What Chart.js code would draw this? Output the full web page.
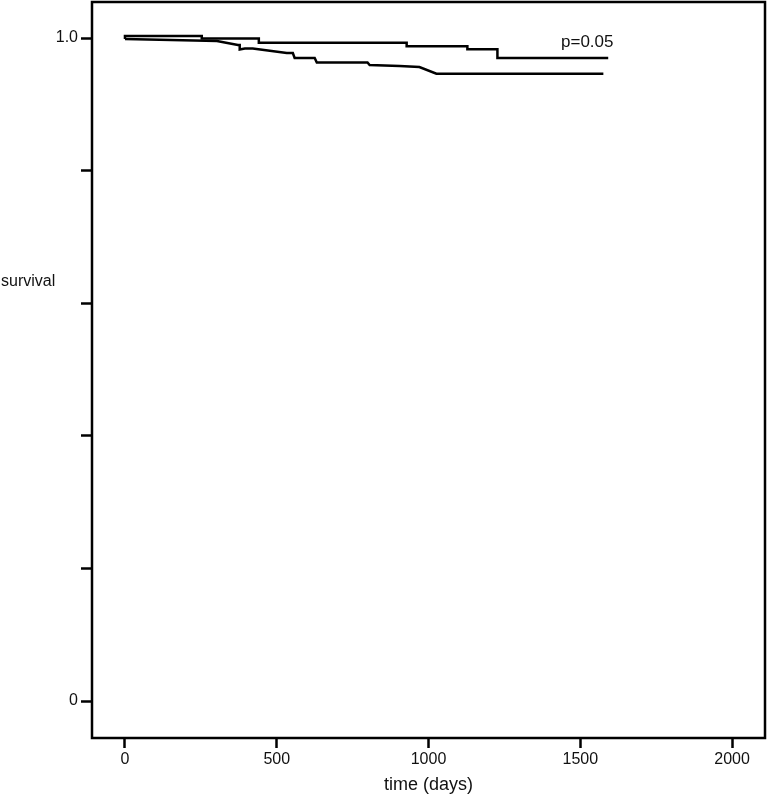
<!DOCTYPE html>
<html>
<head>
<meta charset="utf-8">
<script src="https://cdn.jsdelivr.net/npm/chart.js@4/dist/chart.umd.min.js"></script>
<style>
  html, body { margin: 0; padding: 0; background: #fff; }
  #wrap { width: 768px; height: 796px; }
</style>
</head>
<body>
<div id="wrap"><canvas id="chart"></canvas></div>
<script>
// Données (jours, survie)
const upperDays = [0, 0, 253, 253, 441, 441, 928, 928, 1128, 1128, 1227, 1227, 1592];
const upperSurv = [0.9985, 1.003, 1.003, 0.9992, 0.9992, 0.9929, 0.9929, 0.9875, 0.9875, 0.983, 0.983, 0.9698, 0.9698];

const lowerDays = [0, 303, 372, 378, 378, 395, 421, 533, 553, 559, 625, 632, 799, 806, 905, 970, 1026, 1576];
const lowerSurv = [0.9985, 0.9955, 0.9894, 0.9894, 0.9827, 0.9842, 0.9842, 0.9774, 0.9774, 0.9698, 0.9698, 0.963, 0.963, 0.9593, 0.9578, 0.9563, 0.9462, 0.9462];

const xTicks = [0, 500, 1000, 1500, 2000];
const yTicks = [0, 0.2, 0.4, 0.6, 0.8, 1.0];
const yLabels = { 0: '0', 1: '1.0' };

const pText = 'p=0.05';
const pDays = 1523;
const pSurv = 0.994;

const FONT = '"Liberation Sans", Arial, sans-serif';
const TEXT = '#111';

function toPoints(xs, ys) {
    return xs.map((x, i) => ({ x: x, y: ys[i] }));
}

// Cadre + textes
const framePlugin = {
    id: 'frame',
    afterDraw(chart) {
        const { ctx, chartArea, scales } = chart;
        ctx.save();
        ctx.strokeStyle = '#000';
        ctx.lineWidth = 2.5;
        ctx.strokeRect(chartArea.left, chartArea.top,
            chartArea.right - chartArea.left, chartArea.bottom - chartArea.top);

        ctx.fillStyle = TEXT;
        ctx.font = '17px ' + FONT;
        ctx.textAlign = 'center';
        ctx.textBaseline = 'middle';
        ctx.fillText(pText, scales.x.getPixelForValue(pDays), scales.y.getPixelForValue(pSurv));

        ctx.font = '16px ' + FONT;
        ctx.textAlign = 'left';
        ctx.fillText('survival', 1, 282);
        ctx.restore();
    }
};

const ctx = document.getElementById('chart').getContext('2d');
new Chart(ctx, {
    type: 'line',
    data: {
        datasets: [{
            data: toPoints(upperDays, upperSurv),
            borderColor: '#000',
            borderWidth: 2.5,
            pointRadius: 0,
            tension: 0,
            fill: false
        }, {
            data: toPoints(lowerDays, lowerSurv),
            borderColor: '#000',
            borderWidth: 2.5,
            pointRadius: 0,
            tension: 0,
            fill: false
        }]
    },
    plugins: [framePlugin],
    options: {
        responsive: true,
        maintainAspectRatio: false,
        animation: false,
        layout: { padding: { top: 2, right: 3, left: 0, bottom: 0 } },
        plugins: {
            legend: { display: false },
            tooltip: { enabled: false }
        },
        scales: {
            x: {
                type: 'linear',
                min: -108.6,
                max: 2108.5,
                afterBuildTicks: (axis) => { axis.ticks = xTicks.map(v => ({ value: v })); },
                afterFit: (axis) => {
                    axis.height = 58;
                    axis.paddingLeft = 0;
                    axis.paddingRight = 0;
                },
                grid: {
                    drawOnChartArea: false,
                    drawTicks: true,
                    tickLength: 10,
                    tickWidth: 2.5,
                    tickColor: '#000'
                },
                border: { display: false },
                ticks: {
                    color: TEXT,
                    font: { family: FONT, size: 16 },
                    padding: 2,
                    maxRotation: 0,
                    callback: (v) => String(v)
                },
                title: {
                    display: true,
                    text: 'time (days)',
                    color: TEXT,
                    font: { family: FONT, size: 18 },
                    padding: { top: 2, bottom: 0 }
                }
            },
            y: {
                type: 'linear',
                min: -0.0558,
                max: 1.0543,
                afterBuildTicks: (axis) => { axis.ticks = yTicks.map(v => ({ value: v })); },
                afterFit: (axis) => {
                    axis.width = 92;
                    axis.paddingTop = 0;
                    axis.paddingBottom = 0;
                },
                grid: {
                    drawOnChartArea: false,
                    drawTicks: true,
                    tickLength: 11,
                    tickWidth: 2.5,
                    tickColor: '#000'
                },
                border: { display: false },
                ticks: {
                    color: TEXT,
                    font: { family: FONT, size: 16 },
                    padding: 3,
                    callback: (v) => {
                        const k = Math.round(v * 10) / 10;
                        return yLabels[k] !== undefined ? yLabels[k] : '';
                    }
                }
            }
        }
    }
});
</script>
</body>
</html>
